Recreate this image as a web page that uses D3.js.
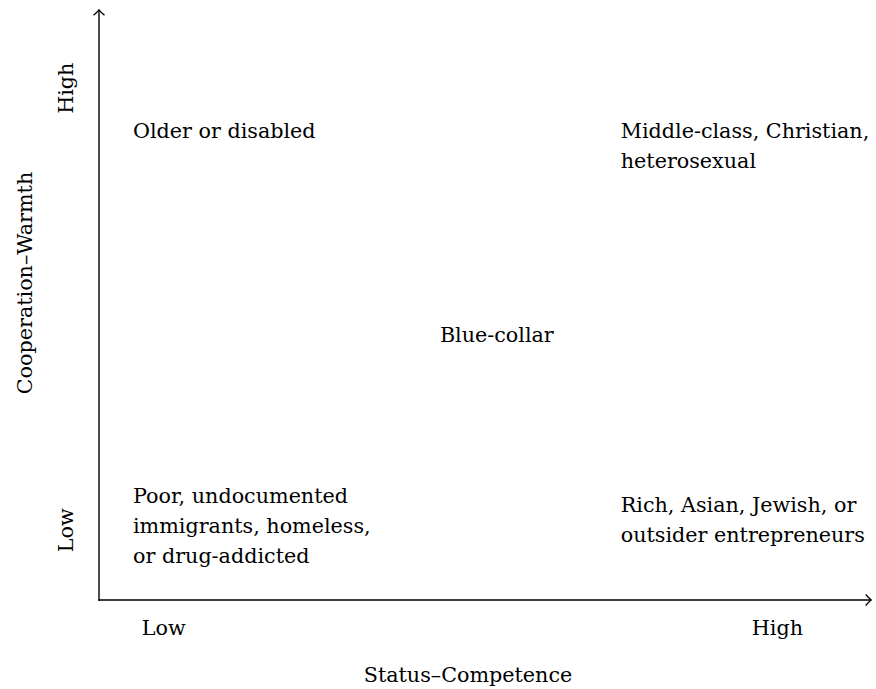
<!DOCTYPE html>
<html>
<head>
<meta charset="utf-8">
<script src="https://cdn.jsdelivr.net/npm/d3@7"></script>
<style>
  html, body { margin: 0; padding: 0; background: #fff; }
  svg { display: block; }
  text { font-family: "DejaVu Serif", serif; fill: #000; }
</style>
</head>
<body>
<div id="chart"></div>
<script>
// ---- data ----
const xTickLabels = ["Low", "High"];
const xTickValues = [0.83, 8.77];
const yTickLabels = ["Low", "High"];
const yTickValues = [1.18, 8.66];
const xTitle = "Status–Competence";
const yTitle = "Cooperation–Warmth";

const groupLines = [
  ["Older or disabled"],
  ["Middle-class, Christian,", "heterosexual"],
  ["Blue-collar"],
  ["Poor, undocumented", "immigrants, homeless,", "or drug-addicted"],
  ["Rich, Asian, Jewish, or", "outsider entrepreneurs"]
];
const groupStatus = [0.44, 6.75, 4.41, 0.44, 6.75];
const groupWarmth = [7.82, 7.82, 4.37, 1.64, 1.49];

// ---- layout ----
const W = 876, H = 689;
const svg = d3.select("#chart").append("svg").attr("width", W).attr("height", H);

const x = d3.scaleLinear().domain([0, 10]).range([99, 872]);
const y = d3.scaleLinear().domain([0, 10]).range([600, 9]);
const fs = 20.7, lh = 30;

const defs = svg.append("defs");
defs.append("marker")
  .attr("id", "arr")
  .attr("viewBox", "-8 -7 10 14")
  .attr("refX", 0).attr("refY", 0)
  .attr("markerWidth", 10).attr("markerHeight", 14)
  .attr("markerUnits", "userSpaceOnUse")
  .attr("orient", "auto")
  .append("path")
  .attr("d", "M-5.5,-5.5 Q-2,-1.5 0,0 Q-2,1.5 -5.5,5.5")
  .attr("fill", "none").attr("stroke", "#000").attr("stroke-width", 1.3);

// axes lines
svg.append("line")
  .attr("x1", x(0) - 0.7).attr("y1", y(0))
  .attr("x2", x(10) - 0.8).attr("y2", y(0))
  .attr("stroke", "#000").attr("stroke-width", 1.4)
  .attr("marker-end", "url(#arr)");
svg.append("line")
  .attr("x1", x(0)).attr("y1", y(0) + 0.7)
  .attr("x2", x(0)).attr("y2", y(10) + 0.8)
  .attr("stroke", "#000").attr("stroke-width", 1.4)
  .attr("marker-end", "url(#arr)");

// x tick labels
const xAxis = d3.axisBottom(x)
  .tickValues(xTickValues)
  .tickFormat((d, i) => xTickLabels[i])
  .tickSize(0).tickPadding(20);
const gx = svg.append("g").attr("transform", `translate(0,${y(0)})`).call(xAxis);
gx.select(".domain").remove();
gx.selectAll("text").attr("font-family", "DejaVu Serif").attr("font-size", fs).attr("fill", "#000");

// y tick labels (rotated)
svg.selectAll(".ytick").data(yTickValues).join("text")
  .attr("class", "ytick")
  .attr("transform", d => `translate(73,${y(d)}) rotate(-90)`)
  .attr("text-anchor", "middle")
  .attr("font-size", fs)
  .text((d, i) => yTickLabels[i]);

// axis titles
svg.append("text")
  .attr("x", 468).attr("y", 682)
  .attr("text-anchor", "middle")
  .attr("font-size", fs)
  .text(xTitle);
svg.append("text")
  .attr("transform", `translate(32,${283}) rotate(-90)`)
  .attr("text-anchor", "middle")
  .attr("font-size", fs)
  .text(yTitle);

// group labels
groupLines.forEach((lines, i) => {
  const t = svg.append("text")
    .attr("x", x(groupStatus[i]))
    .attr("y", y(groupWarmth[i]))
    .attr("font-size", fs);
  lines.forEach((ln, j) => {
    t.append("tspan")
      .attr("x", x(groupStatus[i]))
      .attr("dy", j === 0 ? 0 : lh)
      .text(ln);
  });
});
</script>
</body>
</html>
